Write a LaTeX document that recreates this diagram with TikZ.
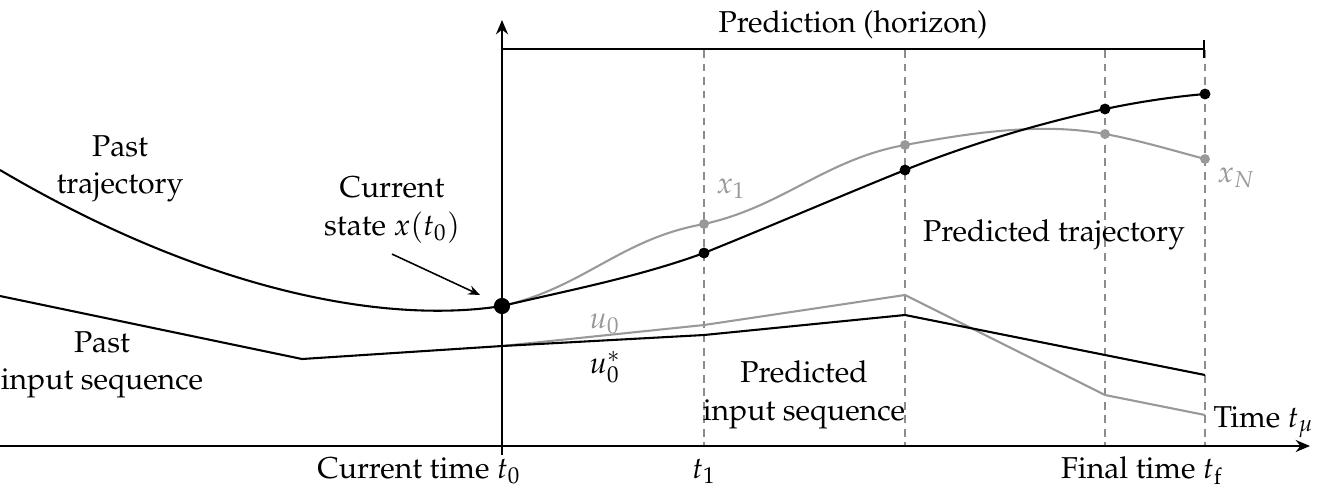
\documentclass[tikz,border=0pt]{standalone}
\usepackage[T1]{fontenc}
\usepackage{mathpazo}
\usetikzlibrary{arrows.meta,calc,positioning}

\begin{document}
\begin{tikzpicture}[
  x=0.0135cm, y=-0.0135cm,
  font=\fontsize{11.6}{14.4}\selectfont,
  axis/.style={line width=.9pt, -{Stealth[length=5.5pt, width=4.6pt]}},
  traj/.style={line width=.8pt},
  pred/.style={line width=.8pt, black!40},
  stage/.style={black!45, line width=.45pt, dash pattern=on 3pt off 2.2pt},
  pointer/.style={line width=.6pt, -{Stealth[length=4.5pt, width=3.6pt]}},
  lbl/.style={align=center, inner sep=0pt},
  tag/.style={inner sep=0pt},
]
\useasboundingbox (0,0) rectangle (1317,492);

% axes
\coordinate (xstart) at (0,446);
\coordinate (xend) at (1310,446);
\coordinate (ystart) at (502,455);
\coordinate (yend) at (502,20);
\coordinate (x0) at (502,306);
\coordinate (u0) at (502,346);

% sampling instants
\foreach \t/\n in {704/1, 905/2, 1105/3, 1205/f}{
  \coordinate (top\n) at (\t,50);
  \coordinate (bot\n) at (\t,446);
  \draw[stage] (top\n) -- (bot\n);
}

\draw[axis] (xstart) -- (xend);
\draw[axis] (ystart) -- (yend);

% horizon
\coordinate (hstart) at (502,49);
\draw[line width=.8pt, -{Bar[width=7pt, line width=.8pt]}] (hstart) -- (topf |- hstart);
\node[anchor=base] (horizon) at (853,32) {Prediction (horizon)};

% predicted states
\coordinate (b1) at (704,253);
\coordinate (b2) at (905,170);
\coordinate (b3) at (1105,109);
\coordinate (bf) at (1205,94);
\coordinate (g1) at (704,224);
\coordinate (g2) at (905,145);
\coordinate (g3) at (1105,134);
\coordinate (gf) at (1205,159);

% past
\draw[traj] (0,170) .. controls (200,288) and (380,325) .. (x0);
\draw[traj] (0,296) -- (302,359) -- (u0);

% input sequences
\draw[pred] (u0) -- (704,325) -- (905,295) -- (1105,395) -- (1205,415);
\draw[traj] (u0) -- (704,335) -- (905,315) -- (1105,355) -- (1205,375);

% trajectories
\draw[pred] (x0) .. controls (585,287) and (620,239) .. (g1)
  .. controls (782,207) and (826,159) .. (g2)
  .. controls (970,133) and (1040,122) .. (g3)
  .. controls (1138,140) and (1175,151) .. (gf);
\draw[traj] (x0) .. controls (570,290) and (638,277) .. (b1)
  .. controls (771,226) and (838,197) .. (b2)
  .. controls (970,144) and (1037,124) .. (b3)
  .. controls (1138,102) and (1171,97) .. (bf);

\foreach \p in {g1,g2,g3,gf} \fill[black!40] (\p) circle (1.9pt);
\foreach \p in {b1,b2,b3,bf} \fill (\p) circle (2.1pt);
\fill (x0) circle (3.1pt);

% labels
\node[lbl] (pasttraj) at (120,169) {Past\\trajectory};
\node[lbl] (state) at (392,210) {Current\\state $x(t_0)$};
\draw[pointer] ([yshift=-4pt]state.south) -- ($(x0)+(-22,-11)$);
\node[lbl] (pastin) at (102,365) {Past\\input sequence};
\node[lbl] (predin) at (804,395) {Predicted\\input sequence};
\node[anchor=base] (predtraj) at (1054,241) {Predicted trajectory};

\node[tag, anchor=base west, text=black!40] (xone) at (716,193) {$x_1$};
\node[tag, anchor=base west, text=black!40] (xN) at (1217,182) {$x_N$};
\node[tag, anchor=base west, text=black!40] (uzero) at (589,328) {$u_0$};
\node[tag, anchor=base west] (ustar) at (589,373) {$u_0^*$};

\node[tag, anchor=base] (tnow) at (419,478) {Current time $t_0$};
\node[tag, anchor=base] (tone) at (704,478) {$t_1$};
\node[tag, anchor=base] (tfin) at (1142,478) {Final time $t_{\mathrm{f}}$};
\node[tag, anchor=base west] (time) at (1213,427) {Time $t_\mu$};
\end{tikzpicture}
\end{document}
